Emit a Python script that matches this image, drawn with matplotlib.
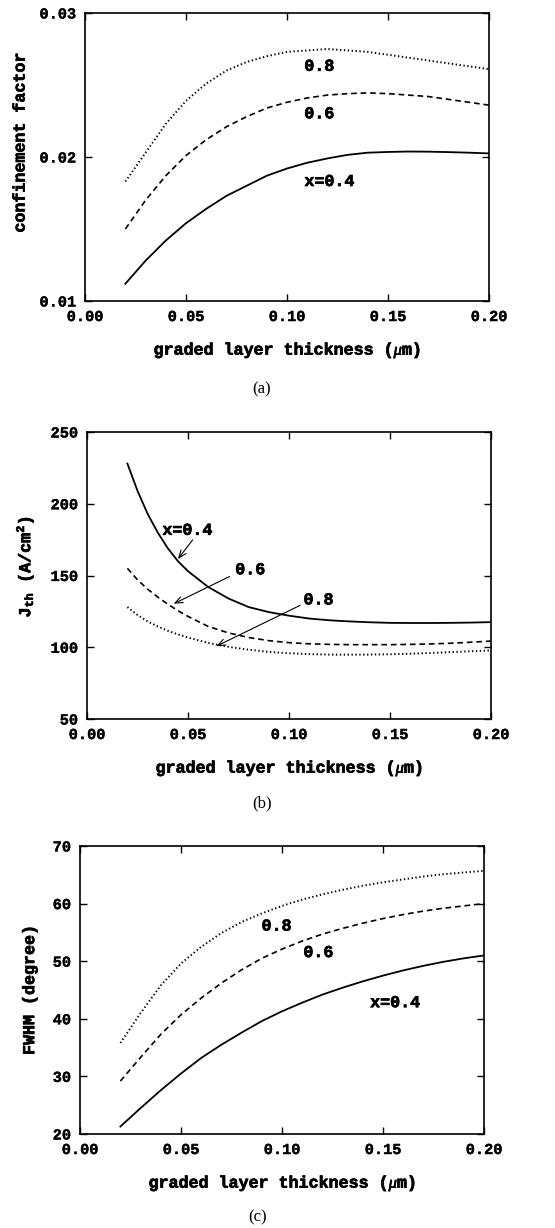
import matplotlib
matplotlib.use("Agg")
import matplotlib.pyplot as plt
import matplotlib.patheffects as pe
from matplotlib.ticker import FixedLocator, FormatStrFormatter

MONO = "Liberation Mono"
SERIF = "Liberation Serif"

plt.rcParams["mathtext.fontset"] = "custom"
plt.rcParams["mathtext.it"] = "Liberation Serif:italic"
plt.rcParams["mathtext.rm"] = "Liberation Mono:bold"
plt.rcParams["mathtext.bf"] = "Liberation Mono:bold"

# heavier strokes for the typewriter-style lettering
HEAVY = [pe.withStroke(linewidth=0.5, foreground="black")]
MEDIUM = [pe.withStroke(linewidth=0.25, foreground="black")]

# graded layer thickness (um)
thickness = [0.02, 0.03, 0.04, 0.05, 0.06, 0.07, 0.08, 0.09, 0.10, 0.11,
             0.12, 0.13, 0.14, 0.15, 0.16, 0.17, 0.18, 0.19, 0.20]
thickness_b = [0.02, 0.025, 0.03, 0.035, 0.04, 0.045, 0.05, 0.06, 0.07, 0.08,
               0.09, 0.10, 0.11, 0.12, 0.13, 0.14, 0.15, 0.16, 0.17, 0.18,
               0.19, 0.20]

# (a) confinement factor
conf_x04 = [0.0112, 0.0128, 0.0142, 0.0154, 0.0164, 0.0173, 0.0180, 0.0187,
            0.0192, 0.0196, 0.0199, 0.02015, 0.0203, 0.02035, 0.02038,
            0.02037, 0.02034, 0.0203, 0.02025]
conf_x06 = [0.0150, 0.0170, 0.0187, 0.0201, 0.0212, 0.0221, 0.0228, 0.0234,
            0.0238, 0.0241, 0.0243, 0.0244, 0.02445, 0.0244, 0.0243, 0.0242,
            0.0240, 0.0238, 0.0236]
conf_x08 = [0.0183, 0.0203, 0.0223, 0.0239, 0.0251, 0.0260, 0.0266, 0.0270,
            0.0273, 0.0274, 0.0275, 0.0274, 0.0273, 0.0271, 0.0269, 0.0267,
            0.0265, 0.0263, 0.0261]

# (b) threshold current density (A/cm^2)
jth_x04 = [228, 209, 193, 180, 169, 160, 153, 142, 134, 128, 124.5, 122,
           120, 118.8, 118, 117.4, 117, 116.9, 116.9, 117, 117.2, 117.5]
jth_x06 = [155, 147, 140.5, 135, 130, 125.5, 121.5, 114.5, 110, 106.8,
           104.6, 103.2, 102.4, 102, 101.8, 101.8, 101.8, 102, 102.3, 102.8,
           103.5, 104.3]
jth_x08 = [128, 122.5, 118, 114.5, 111.5, 109, 106.8, 103, 100.3, 98.3,
           96.8, 95.8, 95.2, 94.9, 94.8, 94.9, 95.1, 95.5, 96, 96.6, 97.2,
           97.8]

# (c) far-field FWHM (degree)
fwhm_x04 = [21.3, 24.5, 27.6, 30.5, 33.2, 35.5, 37.6, 39.6, 41.3, 42.8,
            44.2, 45.4, 46.5, 47.5, 48.4, 49.2, 49.9, 50.5, 51.0]
fwhm_x06 = [29.2, 33.3, 37.3, 40.7, 43.6, 46.2, 48.5, 50.5, 52.1, 53.5,
            54.7, 55.7, 56.6, 57.4, 58.1, 58.7, 59.2, 59.6, 60.0]
fwhm_x08 = [35.8, 41.0, 45.8, 49.6, 52.5, 54.9, 56.8, 58.3, 59.6, 60.7,
            61.6, 62.4, 63.1, 63.7, 64.2, 64.7, 65.1, 65.4, 65.7]

x_ticks = [0.00, 0.05, 0.10, 0.15, 0.20]
conf_ticks = [0.01, 0.02, 0.03]
jth_ticks = [50, 100, 150, 200, 250]
fwhm_ticks = [20, 30, 40, 50, 60, 70]

W, H = 555, 1228
fig = plt.figure(figsize=(W / 100, H / 100), dpi=100)


def make_axes(left, top, right, bottom):
    return fig.add_axes([left / W, 1 - bottom / H, (right - left) / W,
                         (bottom - top) / H])


SOLID = dict(color="black", lw=1.3, ls="-")
DASHED = dict(color="black", lw=1.2, ls=(0, (3.4, 2.3)))
DOTTED = dict(color="black", lw=1.4, ls=(0, (0.7, 1.3)))
TXT = dict(family=MONO, weight="bold", fontsize=12, path_effects=HEAVY)


def style(ax, yticks, yfmt, ylabel, ylabel_x, ylabel_y=0.5):
    ax.set_xlim(0.0, 0.2)
    ax.set_ylim(yticks[0], yticks[-1])
    ax.xaxis.set_major_locator(FixedLocator(x_ticks))
    ax.yaxis.set_major_locator(FixedLocator(yticks))
    ax.xaxis.set_major_formatter(FormatStrFormatter("%.2f"))
    ax.yaxis.set_major_formatter(FormatStrFormatter(yfmt))
    ax.tick_params(direction="in", length=5, width=1.0, top=True, right=True,
                   pad=6.5, labelsize=11)
    for lab in ax.get_xticklabels() + ax.get_yticklabels():
        lab.set_family(MONO)
        lab.set_weight("bold")
        lab.set_path_effects(MEDIUM)
    for sp in ax.spines.values():
        sp.set_linewidth(1.2)
    ax.set_xlabel(r"graded layer thickness ($\mu$m)", family=MONO,
                  weight="bold", fontsize=12, labelpad=12,
                  path_effects=HEAVY)
    ax.set_ylabel(ylabel, family=MONO, weight="bold", fontsize=12,
                  path_effects=HEAVY)
    ax.yaxis.set_label_coords(ylabel_x, ylabel_y)


# (a)
ax_a = make_axes(85, 13, 489, 301)
ax_a.plot(thickness, conf_x04, **SOLID)
ax_a.plot(thickness, conf_x06, **DASHED)
ax_a.plot(thickness, conf_x08, **DOTTED)
style(ax_a, conf_ticks, "%.2f", "confinement factor", -0.142, 0.55)
ax_a.text(0.116, 0.02630, "0.8", ha="center", va="center", **TXT)
ax_a.text(0.116, 0.02300, "0.6", ha="center", va="center", **TXT)
ax_a.text(0.121, 0.01830, "x=0.4", ha="center", va="center", **TXT)
fig.text(262 / W, 1 - 389 / H, "(a)", family=SERIF, fontsize=12,
         ha="center", va="center")

# (b)
ax_b = make_axes(87, 432, 491, 719)
ax_b.plot(thickness_b, jth_x04, **SOLID)
ax_b.plot(thickness_b, jth_x06, **DASHED)
ax_b.plot(thickness_b, jth_x08, **DOTTED)
style(ax_b, jth_ticks, "%d",
      r"J$\mathregular{_{th}}$ (A/cm$\mathregular{^2}$)", -0.125, 0.53)
arrow = dict(arrowstyle="->,head_length=0.55,head_width=0.22", lw=0.8,
             color="black", shrinkA=0, shrinkB=0)
ax_b.text(0.0497, 181.5, "x=0.4", ha="center", va="center", **TXT)
ax_b.annotate("", xy=(0.0450, 161.5), xytext=(0.0523, 174.8),
              arrowprops=arrow)
ax_b.text(0.0808, 154, "0.6", ha="center", va="center", **TXT)
ax_b.annotate("", xy=(0.0429, 130.3), xytext=(0.0706, 149.3),
              arrowprops=arrow)
ax_b.text(0.1146, 133, "0.8", ha="center", va="center", **TXT)
ax_b.annotate("", xy=(0.0640, 100.7), xytext=(0.1055, 129.2),
              arrowprops=arrow)
fig.text(262 / W, 1 - 803 / H, "(b)", family=SERIF, fontsize=12,
         ha="center", va="center")

# (c)
ax_c = make_axes(80, 846, 484, 1134)
ax_c.plot(thickness, fwhm_x04, **SOLID)
ax_c.plot(thickness, fwhm_x06, **DASHED)
ax_c.plot(thickness, fwhm_x08, **DOTTED)
style(ax_c, fwhm_ticks, "%d", "FWHM (degree)", -0.106)
ax_c.text(0.0973, 56.1, "0.8", ha="center", va="center", **TXT)
ax_c.text(0.118, 51.5, "0.6", ha="center", va="center", **TXT)
ax_c.text(0.156, 42.8, "x=0.4", ha="center", va="center", **TXT)
fig.text(258 / W, 1 - 1217 / H, "(c)", family=SERIF, fontsize=12,
         ha="center", va="center")

fig.savefig("out.png", dpi=100)
